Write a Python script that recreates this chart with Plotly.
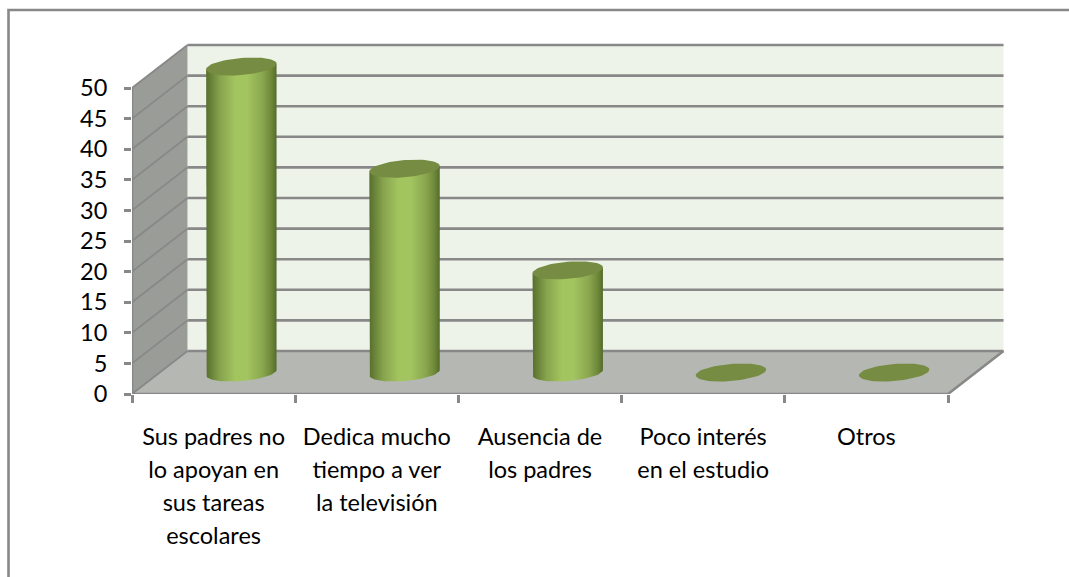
import numpy as np
import plotly.graph_objects as go

categories = [
    ["Sus padres no", "lo apoyan en", "sus tareas", "escolares"],
    ["Dedica mucho", "tiempo a ver", "la televisión"],
    ["Ausencia de", "los padres"],
    ["Poco interés", "en el estudio"],
    ["Otros"],
]
values = [50, 33.3, 16.7, 0, 0]
y_ticks = [0, 5, 10, 15, 20, 25, 30, 35, 40, 45, 50]

W, H = 1069, 577
L, R, T, B = 132, 1012, 38, 394
PX_X, PX_Y = 163.2, 6.12
DX, DY = 55.5 / PX_X, 43 / PX_Y      # depth of the 3-D box in data units
N = len(categories)
GRID = "#888888"

fig = go.Figure()


def poly(xs, ys, color):
    fig.add_trace(go.Scatter(x=xs, y=ys, mode="lines", fill="toself", fillcolor=color,
                             line=dict(width=0), hoverinfo="skip", showlegend=False, cliponaxis=False))


def seg(xs, ys, width=2.6, color=GRID):
    fig.add_trace(go.Scatter(x=xs, y=ys, mode="lines", line=dict(color=color, width=width),
                             hoverinfo="skip", showlegend=False, cliponaxis=False))


top = y_ticks[-1]
poly([DX, N + DX, N + DX, DX], [DY, DY, top + DY, top + DY], "#eef3e9")
poly([0, DX, DX, 0], [0, DY, top + DY, top], "#9a9c97")
poly([0, N, N + DX, DX], [0, 0, DY, DY], "#b5b7b2")

for v in y_ticks:
    seg([DX, N + DX], [v + DY, v + DY])
    seg([0, DX], [v, v + DY], width=1.8)
seg([0, 0], [0, top])
seg([0, N, N + DX], [0, 0, DY])

# cylinders
HALF_W = 35.2 / PX_X
HALF_H = 8.6 / PX_Y
TILT = 2.8 / PX_Y
t = np.linspace(0, 2 * np.pi, 73)
front = np.linspace(np.pi, 2 * np.pi, 37)


def ellipse(cx, cy, a):
    return cx + HALF_W * np.cos(a), cy + HALF_H * np.sin(a) + TILT * np.cos(a)


body_scale = [
    [0.0, "#56702e"], [0.06, "#667f36"], [0.2, "#87a44e"], [0.42, "#a3c55f"],
    [0.58, "#a3c55f"], [0.8, "#8aa74f"], [0.93, "#6d8738"], [1.0, "#536b2c"],
]

for i, v in enumerate(values):
    cx, base = i + 0.5 + DX / 2, DY / 2
    if v > 0:
        bx, by = ellipse(cx, base, front)
        xs = [cx - HALF_W, *bx, cx + HALF_W, cx - HALF_W]
        ys = [base + v - TILT, *by, base + v + TILT, base + v - TILT]
        fig.add_trace(go.Scatter(
            x=xs, y=ys, mode="lines", fill="toself", line=dict(width=0),
            fillgradient=dict(type="horizontal", colorscale=body_scale),
            hoverinfo="skip", showlegend=False, cliponaxis=False))
    ex, ey = ellipse(cx, base + v, t)
    poly(list(ex), list(ey), "#768c42")

tick_text = ["<br>".join(f'<span style="font-size:23.5px">{s}</span>' for s in c) for c in categories]

fig.update_layout(
    width=W, height=H,
    margin=dict(l=L, r=W - R, t=T, b=H - B, pad=0),
    paper_bgcolor="white", plot_bgcolor="white",
    font=dict(family="Lato, Carlito, Calibri, sans-serif", color="black"),
    xaxis=dict(
        range=[0, (R - L) / PX_X], showgrid=False, zeroline=False, showline=False,
        tickmode="array", tickvals=[i + 0.5 for i in range(N)], ticktext=tick_text,
        ticks="", tickangle=0, tickfont=dict(size=25.4, color="black"),
        ticklabelstandoff=25,
        minor=dict(tickmode="array", tickvals=list(range(N + 1)), ticks="outside",
                   ticklen=8, tickwidth=2.6, tickcolor=GRID, showgrid=False),
    ),
    yaxis=dict(
        range=[0, (B - T) / PX_Y], showgrid=False, zeroline=False, showline=False,
        tickmode="array", tickvals=y_ticks, ticks="outside", ticklen=7, tickwidth=2.6,
        tickcolor=GRID, tickfont=dict(size=23.5, color="black"), ticklabelstandoff=12,
    ),
    shapes=[dict(type="path", xref="paper", yref="paper",
                 path=f"M {(8.5 - L) / (R - L)} {(B - 577) / (B - T)} "
                      f"L {(8.5 - L) / (R - L)} {(B - 10) / (B - T)} "
                      f"L {(1069 - L) / (R - L)} {(B - 10) / (B - T)}",
                 line=dict(color=GRID, width=2.6), layer="above")],
    showlegend=False,
)

fig.write_html("out.html", config=dict(displayModeBar=False),
               post_script="document.body.style.margin='0';")
